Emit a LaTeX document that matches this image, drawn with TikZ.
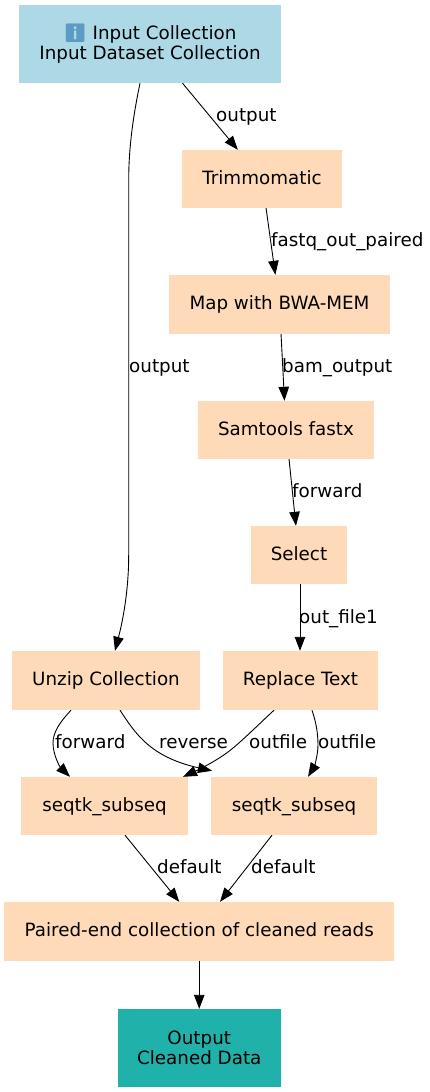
\documentclass[tikz,border=0pt]{standalone}
\usepackage{fontspec}
\setmainfont{DejaVu Sans}
\newfontfamily\emojifont{Noto Emoji}
\usetikzlibrary{arrows.meta}

\definecolor{inputblue}{HTML}{ADD8E6}
\definecolor{toolpeach}{HTML}{FFDAB9}
\definecolor{outputteal}{HTML}{20B2AA}
\definecolor{infoblue}{HTML}{5B9BC4}

\begin{document}
\begin{tikzpicture}[
    x=1pt, y=-1pt,
    tool/.style={rectangle, fill=toolpeach, minimum height=58pt, inner sep=0pt, text height=14pt, text depth=4pt, font=\fontsize{18.3}{20}\selectfont},
    tall/.style={minimum height=59pt},
    inout/.style={tool, minimum height=78pt, text height=, text depth=, align=center},
    arrow/.style={-{Stealth[inset=0pt,length=14pt,width=10.5pt]}, line width=0.9pt},
    edgelabel/.style={anchor=base west, inner sep=0pt, font=\fontsize{18.3}{20}\selectfont}
]
\useasboundingbox (0,0) rectangle (430,1092);

% Boxes
\node[inout,fill=inputblue,minimum width=262pt] (input) at (150,44) {{\emojifont\color{infoblue}ℹ} Input Collection\\Input Dataset Collection};
\node[tool,minimum width=160pt] (trim) at (262,179) {Trimmomatic};
\node[tool,tall,minimum width=221pt] (bwa) at (279.5,304.5) {Map with BWA-MEM};
\node[tool,minimum width=176pt] (samtools) at (286,430) {Samtools fastx};
\node[tool,minimum width=96pt] (select) at (299,555) {Select};
\node[tool,tall,minimum width=188pt] (unzip) at (106,680.5) {Unzip Collection};
\node[tool,tall,minimum width=155pt] (replace) at (300.5,680.5) {Replace Text};
\node[tool,minimum width=167pt] (seqtkA) at (104.5,806) {seqtk\_subseq};
\node[tool,minimum width=166pt] (seqtkB) at (294,806) {seqtk\_subseq};
\node[tool,tall,minimum width=390pt] (paired) at (199.25,931.5) {Paired-end collection of cleaned reads};
\node[inout,fill=outputteal,minimum width=163pt] (result) at (199.25,1048) {Output\\Cleaned Data};

% Straight arrows
\draw[arrow] (input) -- (trim);
\draw[arrow] (trim) -- (bwa);
\draw[arrow] (bwa) -- (samtools);
\draw[arrow] (samtools) -- (select);
\draw[arrow] ([xshift=1pt]select.south) -- ([xshift=-0.5pt]replace.north);
\draw[arrow] ([xshift=20.5pt]seqtkA.south) -- ([xshift=-20pt]paired.north);
\draw[arrow] ([xshift=-22pt]seqtkB.south) -- ([xshift=20.75pt]paired.north);
\draw[arrow] (paired) -- (result);

% Curved arrows
\draw[arrow] ([xshift=-10pt]input.south) .. controls (134,112) and (128.7,145) .. (128.7,180) -- (128.7,555) .. controls (128.7,590) and (123,620) .. ([xshift=9pt]unzip.north);
\draw[arrow] ([xshift=-35pt]unzip.south) .. controls (60,722) and (53,732) .. (53,743) .. controls (53,755) and (60,767) .. ([xshift=-34.5pt]seqtkA.north);
\draw[arrow] ([xshift=14pt]unzip.south) .. controls (135,733) and (150,757) .. ([xshift=-82pt,yshift=6pt]seqtkB.north);
\draw[arrow] ([xshift=-26.5pt]replace.south) .. controls (258,725) and (240,743) .. (228,752) .. controls (216,761) and (200,769) .. ([xshift=78.5pt]seqtkA.north);
\draw[arrow] ([xshift=11.5pt]replace.south) .. controls (316,722) and (318,733) .. (318,745) .. controls (318,755) and (314,767) .. ([xshift=14pt]seqtkB.north);

% Labels
\node[edgelabel] (lblA) at (216,121) {output};
\node[edgelabel] (lblB) at (129,372) {output};
\node[edgelabel] (lblC) at (271,246) {fastq\_out\_paired};
\node[edgelabel] (lblD) at (282,372) {bam\_output};
\node[edgelabel] (lblE) at (292,497) {forward};
\node[edgelabel] (lblF) at (299,623) {out\_file1};
\node[edgelabel] (lblG) at (55,748) {forward};
\node[edgelabel] (lblH) at (159,748) {reverse};
\node[edgelabel] (lblI) at (249,748) {outfile};
\node[edgelabel] (lblJ) at (318,748) {outfile};
\node[edgelabel] (lblK) at (157,873) {default};
\node[edgelabel] (lblL) at (251,873) {default};

\end{tikzpicture}
\end{document}
